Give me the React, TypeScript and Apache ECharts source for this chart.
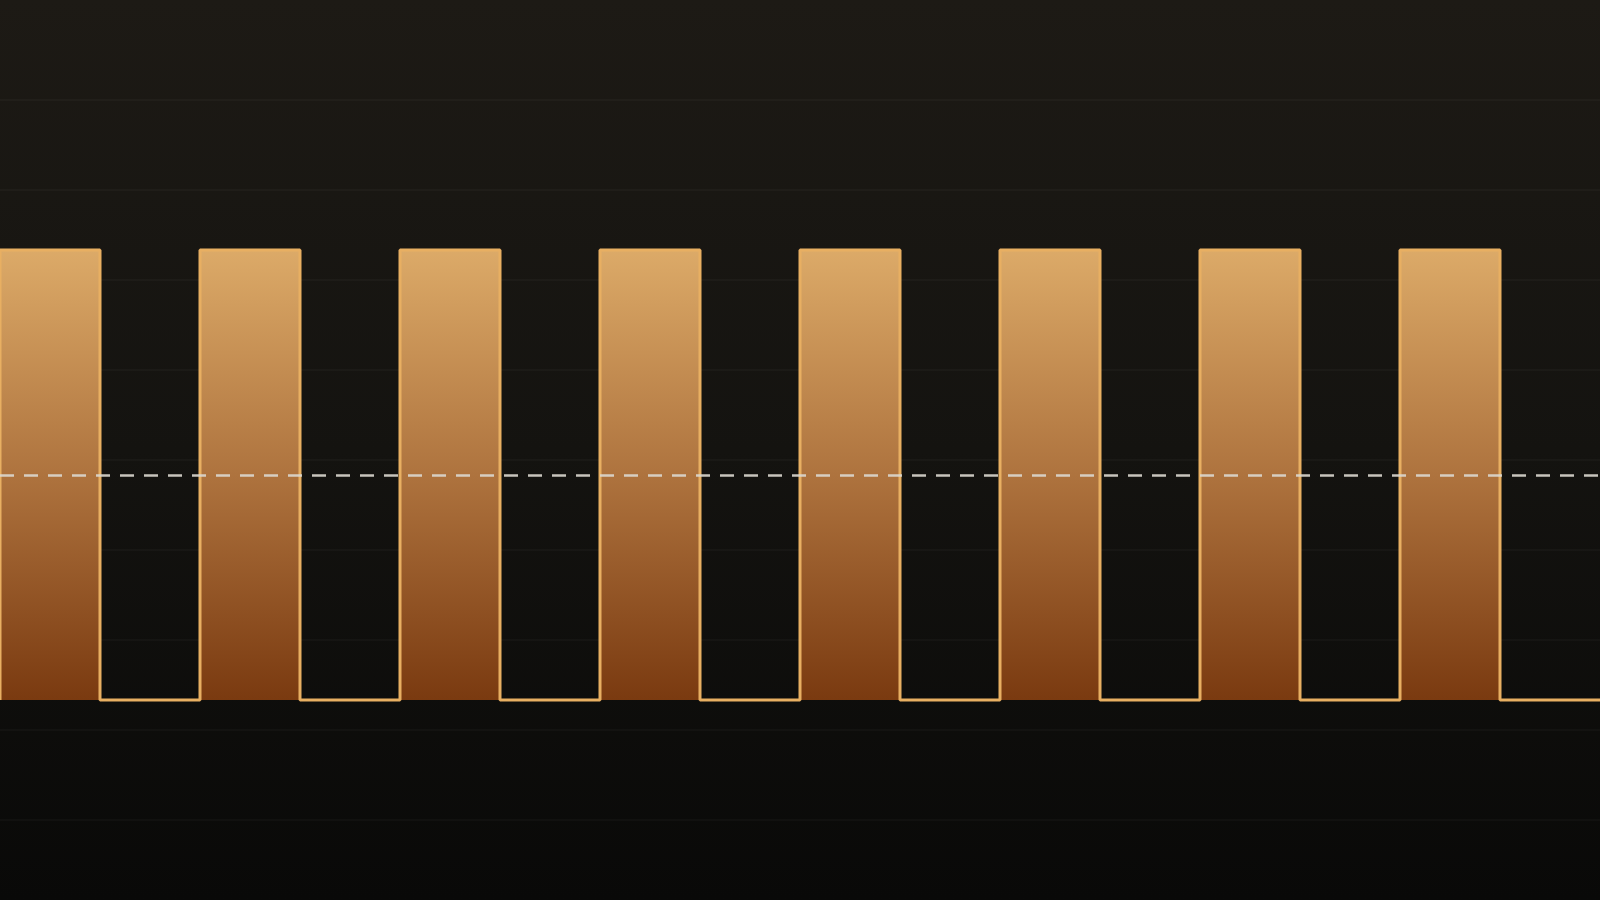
import { useEffect, useRef } from 'react'
import * as echarts from 'echarts'

// square wave: low / high levels, 17 samples across the width
const LOW = 20
const HIGH = 95
const steps = ['t0', 't1', 't2', 't3', 't4', 't5', 't6', 't7', 't8', 't9', 't10', 't11', 't12', 't13', 't14', 't15', 't16']
const levels = [LOW, HIGH, LOW, HIGH, LOW, HIGH, LOW, HIGH, LOW, HIGH, LOW, HIGH, LOW, HIGH, LOW, HIGH, LOW]
const midLevel = (LOW + HIGH) / 2

export default function App(): JSX.Element {
  const chartRef = useRef<HTMLDivElement>(null)

  useEffect(() => {
    if (!chartRef.current) return
    document.body.style.margin = '0'
    const chart = echarts.init(chartRef.current, undefined, { renderer: 'svg' })

    const option: echarts.EChartsOption = {
      animation: false,
      backgroundColor: new echarts.graphic.LinearGradient(0, 0, 0, 1, [
        { offset: 0, color: '#1d1a15' },
        { offset: 0.5, color: '#141310' },
        { offset: 1, color: '#090908' }
      ]),
      grid: { left: 0, right: 0, top: 100, bottom: 80 },
      xAxis: {
        type: 'category',
        data: steps,
        boundaryGap: false,
        show: false
      },
      yAxis: {
        type: 'value',
        min: 0,
        max: 120,
        interval: 15,
        axisLabel: { show: false },
        axisLine: { show: false },
        axisTick: { show: false },
        splitLine: {
          lineStyle: { color: 'rgba(255, 255, 255, 0.04)', width: 1.5 }
        }
      },
      series: [
        {
          type: 'line',
          data: levels,
          step: 'start',
          showSymbol: false,
          lineStyle: { color: '#e8af62', width: 3 },
          areaStyle: {
            origin: LOW,
            opacity: 1,
            color: new echarts.graphic.LinearGradient(0, 0, 0, 1, [
              { offset: 0, color: '#dcaa68' },
              { offset: 0.5, color: '#ae733e' },
              { offset: 1, color: '#7a3a10' }
            ])
          },
          markLine: {
            silent: true,
            symbol: 'none',
            label: { show: false },
            lineStyle: { color: '#dcd8d0', width: 2.5, type: [14, 10], opacity: 0.9 },
            data: [{ yAxis: midLevel }]
          }
        }
      ]
    }

    chart.setOption(option)

    const handleResize = () => chart.resize()
    window.addEventListener('resize', handleResize)
    return () => {
      window.removeEventListener('resize', handleResize)
      chart.dispose()
    }
  }, [])

  return <div ref={chartRef} style={{ width: '100vw', height: '100vh' }} />
}
